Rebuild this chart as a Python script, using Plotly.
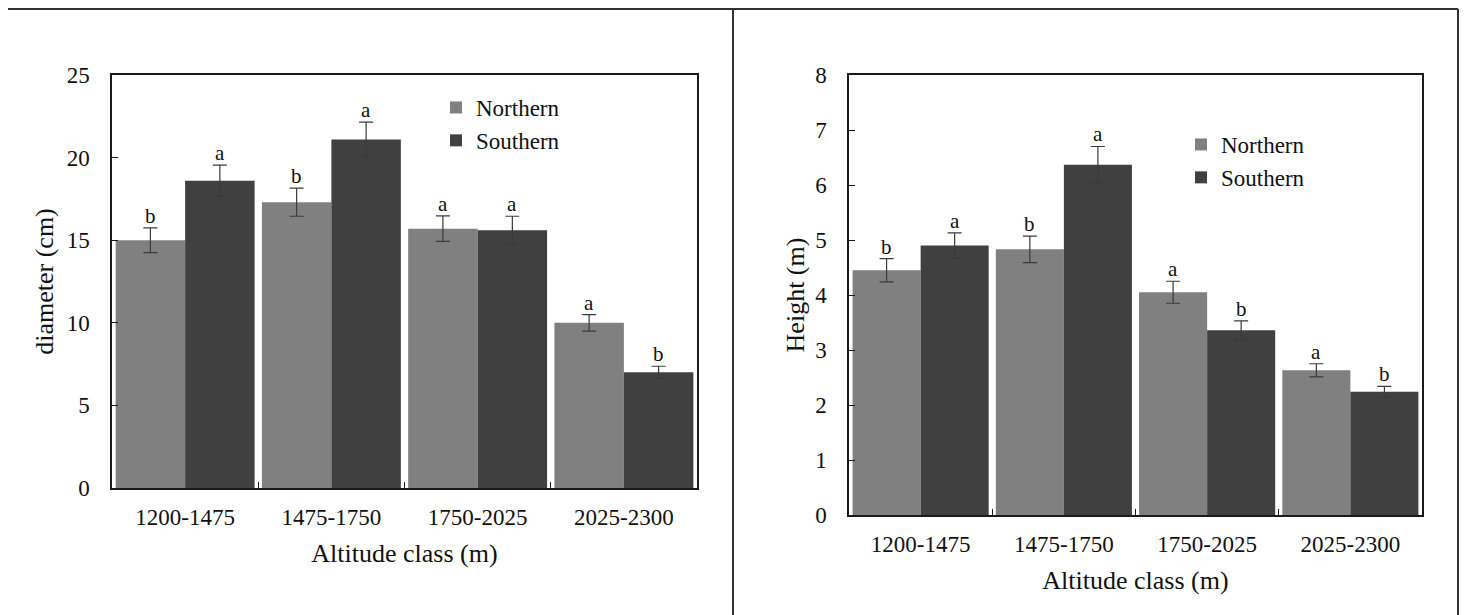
import plotly.graph_objects as go

# ---------------- data ----------------
categories = ["1200-1475", "1475-1750", "1750-2025", "2025-2300"]

diam_north = [15.0, 17.3, 15.7, 10.0]
diam_north_err = [0.75, 0.85, 0.77, 0.5]
diam_south = [18.6, 21.1, 15.6, 7.0]
diam_south_err = [0.95, 1.05, 0.85, 0.37]
diam_north_letters = ["b", "b", "a", "a"]
diam_south_letters = ["a", "a", "a", "b"]

height_north = [4.45, 4.83, 4.05, 2.63]
height_north_err = [0.21, 0.24, 0.20, 0.12]
height_south = [4.90, 6.37, 3.36, 2.24]
height_south_err = [0.23, 0.33, 0.17, 0.10]
height_north_letters = ["b", "b", "a", "a"]
height_south_letters = ["a", "a", "b", "b"]

series_names = ["Northern", "Southern"]
# --------------------------------------

W, H = 1467, 615
OFF = 8  # page body margin
FONT = "Liberation Serif"
C_N = "#808080"
C_S = "#404040"
ERR_C = "#3a3a3a"
BARGAP = 0.05
HALF = (1 - BARGAP) / 4.0  # offset of each bar centre from category centre

fig = go.Figure()


def add_bars(xa, ya, leg, north, north_err, south, south_err):
    fig.add_trace(go.Bar(
        x=categories, y=north, name=series_names[0], marker_color=C_N,
        marker_line_width=0,
        error_y=dict(type="data", array=north_err, color=ERR_C, thickness=1.2, width=7),
        xaxis=xa, yaxis=ya, legend=leg, legendgroup=leg + "n",
    ))
    fig.add_trace(go.Bar(
        x=categories, y=south, name=series_names[1], marker_color=C_S,
        marker_line_width=0,
        error_y=dict(type="data", array=south_err, color=ERR_C, thickness=1.2, width=7),
        xaxis=xa, yaxis=ya, legend=leg, legendgroup=leg + "s",
    ))


add_bars("x", "y", "legend", diam_north, diam_north_err, diam_south, diam_south_err)
add_bars("x2", "y2", "legend2", height_north, height_north_err, height_south, height_south_err)

annotations = []


def add_letters(xref, yref, vals, errs, letters, offset):
    for i, (v, e, l) in enumerate(zip(vals, errs, letters)):
        annotations.append(dict(
            x=i + offset, y=v + e, xref=xref, yref=yref, text=l,
            showarrow=False, yanchor="bottom", yshift=-2,
            font=dict(family=FONT, size=21, color="#111"),
        ))


add_letters("x", "y", diam_north, diam_north_err, diam_north_letters, -HALF)
add_letters("x", "y", diam_south, diam_south_err, diam_south_letters, HALF)
add_letters("x2", "y2", height_north, height_north_err, height_north_letters, -HALF)
add_letters("x2", "y2", height_south, height_south_err, height_south_letters, HALF)


def px(xp):
    return (xp - OFF) / W


def py(yp):
    return 1 - (yp - OFF) / H


axis_common = dict(
    showline=True, linecolor="#1a1a1a", linewidth=1.5, mirror=True,
    showgrid=False, zeroline=False, automargin=False,
    tickfont=dict(family=FONT, size=23, color="#111"),
    ticks="inside", ticklen=6, tickcolor="#1a1a1a", tickwidth=1,
)
title_font = dict(family=FONT, size=26, color="#111")

fig.update_layout(
    template="none",
    width=W, height=H,
    margin=dict(l=0, r=0, t=0, b=0, pad=0),
    paper_bgcolor="white", plot_bgcolor="white",
    barmode="group", bargap=BARGAP, bargroupgap=0,
    font=dict(family=FONT, color="#111"),
    xaxis=dict(domain=[px(112), px(697)], anchor="y", type="category",
               tickson="boundaries", range=[-0.5, 3.5], ticklabelstandoff=8,
               title=dict(text="Altitude class (m)", font=title_font, standoff=14),
               **axis_common),
    yaxis=dict(domain=[py(488), py(75)], anchor="x", range=[0, 25], dtick=5,
               ticklabelstandoff=16,
               title=dict(text="diameter (cm)", font=title_font, standoff=6),
               **axis_common),
    xaxis2=dict(domain=[px(849), px(1422)], anchor="y2", type="category",
                tickson="boundaries", range=[-0.5, 3.5], ticklabelstandoff=8,
                title=dict(text="Altitude class (m)", font=title_font, standoff=14),
                **axis_common),
    yaxis2=dict(domain=[py(515), py(75)], anchor="x2", range=[0, 8], dtick=1,
                ticklabelstandoff=16,
                title=dict(text="Height (m)", font=title_font, standoff=3),
                **axis_common),
    legend=dict(x=px(436), y=py(86), xanchor="left", yanchor="top",
                bgcolor="rgba(0,0,0,0)", tracegroupgap=0, itemwidth=30,
                font=dict(family=FONT, size=23, color="#111")),
    legend2=dict(x=px(1181), y=py(123), xanchor="left", yanchor="top",
                 bgcolor="rgba(0,0,0,0)", tracegroupgap=0, itemwidth=30,
                 font=dict(family=FONT, size=23, color="#111")),
    annotations=annotations,
    showlegend=True,
)

# outer frame around the two panels
frame = dict(type="line", xref="paper", yref="paper", line=dict(color="#333", width=2))
fig.add_shape(x0=px(7), x1=px(1458), y0=py(9), y1=py(9), **frame)
for xv in (7, 733, 1458):
    fig.add_shape(x0=px(xv), x1=px(xv), y0=py(9), y1=py(616), **frame)

fig.write_html("out.html")
